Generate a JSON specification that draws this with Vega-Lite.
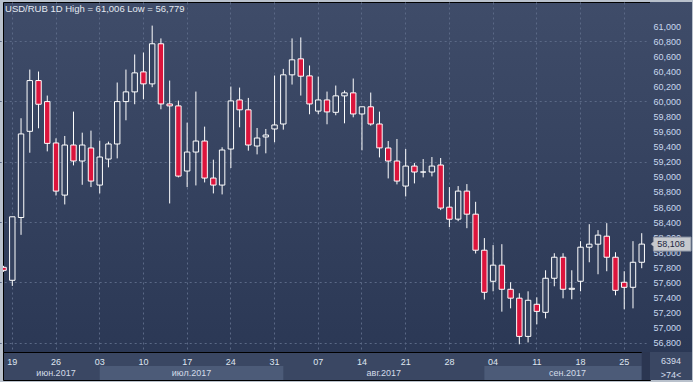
{
  "$schema": "https://vega.github.io/schema/vega-lite/v6.json",
  "background": "#b9c1cc",
  "padding": {"left": 2, "top": 1, "right": 2, "bottom": 3},
  "config": {
    "locale": {"number": {"decimal": ",", "thousands": " ", "grouping": [3], "currency": ["", ""]}},
    "font": "Liberation Sans"
  },
  "datasets": {
    "candles": [
      {"date": "2017-06-16", "open": 57.800, "high": 57.820, "low": 57.740, "close": 57.760},
      {"date": "2017-06-19", "open": 57.628, "high": 58.470, "low": 57.553, "close": 58.470},
      {"date": "2017-06-20", "open": 58.461, "high": 59.777, "low": 58.231, "close": 59.569},
      {"date": "2017-06-21", "open": 59.604, "high": 60.423, "low": 59.320, "close": 60.277},
      {"date": "2017-06-22", "open": 60.277, "high": 60.397, "low": 59.644, "close": 59.963},
      {"date": "2017-06-23", "open": 59.998, "high": 60.078, "low": 59.338, "close": 59.444},
      {"date": "2017-06-26", "open": 59.449, "high": 59.511, "low": 58.753, "close": 58.811},
      {"date": "2017-06-27", "open": 58.758, "high": 59.542, "low": 58.634, "close": 59.422},
      {"date": "2017-06-28", "open": 59.422, "high": 59.865, "low": 59.152, "close": 59.210},
      {"date": "2017-06-29", "open": 59.210, "high": 59.586, "low": 58.895, "close": 59.422},
      {"date": "2017-06-30", "open": 59.383, "high": 59.613, "low": 58.864, "close": 58.944},
      {"date": "2017-07-03", "open": 58.891, "high": 59.480, "low": 58.780, "close": 59.263},
      {"date": "2017-07-04", "open": 59.236, "high": 59.467, "low": 59.126, "close": 59.436},
      {"date": "2017-07-05", "open": 59.436, "high": 60.251, "low": 59.245, "close": 59.998},
      {"date": "2017-07-06", "open": 59.998, "high": 60.423, "low": 59.750, "close": 60.127},
      {"date": "2017-07-07", "open": 60.127, "high": 60.623, "low": 59.963, "close": 60.379},
      {"date": "2017-07-10", "open": 60.392, "high": 60.649, "low": 60.029, "close": 60.233},
      {"date": "2017-07-11", "open": 60.233, "high": 61.006, "low": 60.189, "close": 60.765},
      {"date": "2017-07-12", "open": 60.765, "high": 60.836, "low": 59.896, "close": 59.967},
      {"date": "2017-07-13", "open": 59.967, "high": 60.277, "low": 58.647, "close": 59.941},
      {"date": "2017-07-14", "open": 59.941, "high": 60.011, "low": 58.993, "close": 59.010},
      {"date": "2017-07-17", "open": 59.077, "high": 59.719, "low": 58.864, "close": 59.329},
      {"date": "2017-07-18", "open": 59.329, "high": 60.131, "low": 58.886, "close": 59.475},
      {"date": "2017-07-19", "open": 59.475, "high": 59.666, "low": 58.926, "close": 58.984},
      {"date": "2017-07-20", "open": 58.984, "high": 59.228, "low": 58.780, "close": 58.891},
      {"date": "2017-07-21", "open": 58.891, "high": 59.392, "low": 58.767, "close": 59.356},
      {"date": "2017-07-24", "open": 59.369, "high": 60.198, "low": 59.117, "close": 60.007},
      {"date": "2017-07-25", "open": 60.020, "high": 60.184, "low": 59.657, "close": 59.889},
      {"date": "2017-07-26", "open": 59.889, "high": 60.047, "low": 59.347, "close": 59.422},
      {"date": "2017-07-27", "open": 59.409, "high": 59.648, "low": 59.298, "close": 59.515},
      {"date": "2017-07-28", "open": 59.529, "high": 59.635, "low": 59.312, "close": 59.555},
      {"date": "2017-07-31", "open": 59.635, "high": 60.344, "low": 59.458, "close": 59.688},
      {"date": "2017-08-01", "open": 59.701, "high": 60.432, "low": 59.626, "close": 60.353},
      {"date": "2017-08-02", "open": 60.353, "high": 60.836, "low": 60.224, "close": 60.552},
      {"date": "2017-08-03", "open": 60.565, "high": 60.849, "low": 60.078, "close": 60.335},
      {"date": "2017-08-04", "open": 60.339, "high": 60.477, "low": 59.830, "close": 59.967},
      {"date": "2017-08-07", "open": 59.872, "high": 60.330, "low": 59.830, "close": 60.020},
      {"date": "2017-08-08", "open": 60.020, "high": 60.131, "low": 59.697, "close": 59.861},
      {"date": "2017-08-09", "open": 59.856, "high": 60.211, "low": 59.817, "close": 60.074},
      {"date": "2017-08-10", "open": 60.074, "high": 60.144, "low": 59.710, "close": 60.114},
      {"date": "2017-08-11", "open": 60.114, "high": 60.304, "low": 59.790, "close": 59.834},
      {"date": "2017-08-14", "open": 59.834, "high": 59.929, "low": 59.352, "close": 59.929},
      {"date": "2017-08-15", "open": 59.929, "high": 60.118, "low": 59.679, "close": 59.701},
      {"date": "2017-08-16", "open": 59.701, "high": 59.865, "low": 59.258, "close": 59.384},
      {"date": "2017-08-17", "open": 59.383, "high": 59.475, "low": 58.979, "close": 59.210},
      {"date": "2017-08-18", "open": 59.210, "high": 59.502, "low": 58.900, "close": 58.944},
      {"date": "2017-08-21", "open": 58.878, "high": 59.369, "low": 58.740, "close": 59.143},
      {"date": "2017-08-22", "open": 59.143, "high": 59.183, "low": 58.913, "close": 59.064},
      {"date": "2017-08-23", "open": 59.064, "high": 59.236, "low": 58.993, "close": 59.064},
      {"date": "2017-08-24", "open": 59.064, "high": 59.263, "low": 59.006, "close": 59.143},
      {"date": "2017-08-25", "open": 59.157, "high": 59.250, "low": 58.559, "close": 58.586},
      {"date": "2017-08-28", "open": 58.598, "high": 58.864, "low": 58.333, "close": 58.438},
      {"date": "2017-08-29", "open": 58.439, "high": 58.878, "low": 58.412, "close": 58.811},
      {"date": "2017-08-30", "open": 58.811, "high": 58.904, "low": 58.319, "close": 58.505},
      {"date": "2017-08-31", "open": 58.505, "high": 58.669, "low": 57.983, "close": 58.027},
      {"date": "2017-09-01", "open": 58.027, "high": 58.188, "low": 57.373, "close": 57.469},
      {"date": "2017-09-04", "open": 57.615, "high": 58.095, "low": 57.482, "close": 57.829},
      {"date": "2017-09-05", "open": 57.829, "high": 58.107, "low": 57.212, "close": 57.509},
      {"date": "2017-09-06", "open": 57.509, "high": 57.602, "low": 57.256, "close": 57.391},
      {"date": "2017-09-07", "open": 57.391, "high": 57.456, "low": 56.779, "close": 56.884},
      {"date": "2017-09-08", "open": 56.884, "high": 57.482, "low": 56.804, "close": 57.363},
      {"date": "2017-09-11", "open": 57.310, "high": 57.402, "low": 57.044, "close": 57.216},
      {"date": "2017-09-12", "open": 57.203, "high": 57.761, "low": 57.123, "close": 57.655},
      {"date": "2017-09-13", "open": 57.655, "high": 57.987, "low": 57.549, "close": 57.934},
      {"date": "2017-09-14", "open": 57.934, "high": 57.987, "low": 57.389, "close": 57.509},
      {"date": "2017-09-15", "open": 57.509, "high": 57.761, "low": 57.376, "close": 57.522},
      {"date": "2017-09-18", "open": 57.615, "high": 58.147, "low": 57.482, "close": 58.067},
      {"date": "2017-09-19", "open": 58.067, "high": 58.372, "low": 57.867, "close": 58.107},
      {"date": "2017-09-20", "open": 58.107, "high": 58.293, "low": 57.708, "close": 58.227},
      {"date": "2017-09-21", "open": 58.213, "high": 58.386, "low": 57.748, "close": 57.934},
      {"date": "2017-09-22", "open": 57.934, "high": 58.000, "low": 57.429, "close": 57.495},
      {"date": "2017-09-25", "open": 57.602, "high": 57.748, "low": 57.243, "close": 57.535},
      {"date": "2017-09-26", "open": 57.535, "high": 58.147, "low": 57.256, "close": 57.867},
      {"date": "2017-09-27", "open": 57.867, "high": 58.253, "low": 57.788, "close": 58.108}
    ],
    "mondays": [
      {"date": "2017-06-19", "day": "19"}, {"date": "2017-06-26", "day": "26"},
      {"date": "2017-07-03", "day": "03"}, {"date": "2017-07-10", "day": "10"},
      {"date": "2017-07-17", "day": "17"}, {"date": "2017-07-24", "day": "24"},
      {"date": "2017-07-31", "day": "31"}, {"date": "2017-08-07", "day": "07"},
      {"date": "2017-08-14", "day": "14"}, {"date": "2017-08-21", "day": "21"},
      {"date": "2017-08-28", "day": "28"}, {"date": "2017-09-04", "day": "04"},
      {"date": "2017-09-11", "day": "11"}, {"date": "2017-09-18", "day": "18"},
      {"date": "2017-09-25", "day": "25"}
    ],
    "months": [
      {"m": "июн.2017", "start": "2017-06-16", "end": "2017-07-03", "light": false, "at": "2017-06-26"},
      {"m": "июл.2017", "start": "2017-07-03", "end": "2017-08-01", "light": true, "at": "2017-07-17"},
      {"m": "авг.2017", "start": "2017-08-01", "end": "2017-09-01", "light": false, "at": "2017-08-16"},
      {"m": "сен.2017", "start": "2017-09-01", "end": "2017-09-27", "light": true, "at": "2017-09-14"}
    ],
    "future": [{"from": "2017-09-27"}],
    "corner": [{"row": "d", "t": "6394"}, {"row": "m", "t": ">74<"}],
    "heading": [{"t": "USD/RUB 1D High = 61,006 Low = 56,779"}]
  },
  "columns": 2,
  "spacing": 0,
  "bounds": "flush",
  "concat": [
    {
      "width": 647,
      "height": 350,
      "view": {
        "fill": {"gradient": "linear", "x1": 0, "y1": 0, "x2": 0, "y2": 1, "stops": [{"offset": 0, "color": "#3f4c69"}, {"offset": 1, "color": "#2b3855"}]},
        "stroke": "#000000"
      },
      "encoding": {
        "x": {
          "field": "date", "type": "ordinal",
          "scale": {"type": "band", "range": [-3.81, 643.1], "paddingInner": 0, "paddingOuter": 0},
          "axis": {
            "values": ["2017-06-19", "2017-06-26", "2017-07-03", "2017-07-10", "2017-07-17", "2017-07-24", "2017-07-31", "2017-08-07", "2017-08-14", "2017-08-21", "2017-08-28", "2017-09-04", "2017-09-11", "2017-09-18", "2017-09-25"],
            "grid": true, "gridColor": "#5b6986", "gridDash": [2, 3], "gridWidth": 1,
            "labels": false, "ticks": false, "domain": false, "title": null, "bandPosition": 0.5
          }
        }
      },
      "layer": [
        {
          "data": {"name": "candles"},
          "mark": {"type": "rule", "color": "#ffffff", "strokeWidth": 1, "clip": true},
          "encoding": {
            "y": {
              "field": "low", "type": "quantitative",
              "scale": {"domain": [56.677, 61.319], "nice": false, "zero": false},
              "axis": {
                "orient": "left",
                "values": [56.8, 57.0, 57.2, 57.4, 57.6, 57.8, 58.0, 58.2, 58.4, 58.6, 58.8, 59.0, 59.2, 59.4, 59.6, 59.8, 60.0, 60.2, 60.4, 60.6, 60.8, 61.0],
                "grid": true, "gridColor": "#5b6986", "gridDash": [2, 3], "gridWidth": 1,
                "labels": false, "ticks": false, "domain": false, "title": null
              }
            },
            "y2": {"field": "high"}
          }
        },
        {
          "data": {"name": "candles"},
          "mark": {"type": "bar", "stroke": "#ffffff", "strokeWidth": 1, "clip": true, "width": {"band": 0.62}},
          "encoding": {
            "y": {"field": "open", "type": "quantitative"},
            "y2": {"field": "close"},
            "fill": {"condition": {"test": "datum.close < datum.open", "value": "#dc143c"}, "value": "#35425f"}
          }
        },
        {
          "data": {"name": "heading"},
          "mark": {"type": "text", "align": "left", "baseline": "alphabetic", "dx": 1.5, "dy": 10, "fontSize": 9.5, "color": "#e4e9f1", "font": "Liberation Sans"},
          "encoding": {
            "x": {"datum": "2017-06-16", "type": "ordinal"},
            "y": {"datum": 61.319, "type": "quantitative"},
            "text": {"field": "t"}
          }
        }
      ]
    },
    {
      "width": 42,
      "height": 350,
      "view": {
        "fill": {"gradient": "linear", "x1": 0, "y1": 0, "x2": 0, "y2": 1, "stops": [{"offset": 0, "color": "#3f4c69"}, {"offset": 1, "color": "#2b3855"}]},
        "stroke": null
      },
      "data": {"name": "candles"},
      "transform": [{"filter": "datum.date == '2017-09-27'"}],
      "encoding": {
        "y": {
          "field": "close", "type": "quantitative",
          "scale": {"domain": [56.677, 61.319], "nice": false, "zero": false},
          "axis": {
            "orient": "left",
            "values": [56.8, 57.0, 57.2, 57.4, 57.6, 57.8, 58.0, 58.2, 58.4, 58.6, 58.8, 59.0, 59.2, 59.4, 59.6, 59.8, 60.0, 60.2, 60.4, 60.6, 60.8, 61.0],
            "format": ".3f", "labelAlign": "left", "labelPadding": -3, "labelBaseline": "middle",
            "ticks": false, "tickSize": 0, "domain": false, "grid": false,
            "labelColor": "#c9d8ee", "labelFontSize": 9, "labelFont": "Liberation Sans",
            "labelOverlap": false, "labelFlush": false, "title": null
          }
        }
      },
      "layer": [
        {"mark": {"type": "point", "shape": "M-0.88,-0.35L1,-0.35L1,0.35L-0.88,0.35L-0.88,0.12L-1,0L-0.88,-0.12Z", "size": 1600, "filled": true, "fill": "#c6c9ce", "stroke": "#8a93a3", "strokeWidth": 1, "opacity": 1}},
        {"mark": {"type": "text", "fontSize": 9, "color": "#1c2740", "font": "Liberation Sans"}, "encoding": {"text": {"field": "close", "type": "quantitative", "format": ".3f"}}}
      ]
    },
    {
      "width": 647,
      "height": 28,
      "view": {"fill": "#3a4763", "stroke": "#000000"},
      "layer": [
        {
          "data": {"name": "months"},
          "transform": [{"filter": "datum.light"}],
          "mark": {"type": "rect", "color": "#4c5b78"},
          "encoding": {
            "x": {
              "field": "start", "type": "ordinal", "bandPosition": 0.5,
              "scale": {"type": "band", "range": [-3.81, 643.1], "paddingInner": 0, "paddingOuter": 0,
                "domain": ["2017-06-16", "2017-06-19", "2017-06-20", "2017-06-21", "2017-06-22", "2017-06-23", "2017-06-26", "2017-06-27", "2017-06-28", "2017-06-29", "2017-06-30", "2017-07-03", "2017-07-04", "2017-07-05", "2017-07-06", "2017-07-07", "2017-07-10", "2017-07-11", "2017-07-12", "2017-07-13", "2017-07-14", "2017-07-17", "2017-07-18", "2017-07-19", "2017-07-20", "2017-07-21", "2017-07-24", "2017-07-25", "2017-07-26", "2017-07-27", "2017-07-28", "2017-07-31", "2017-08-01", "2017-08-02", "2017-08-03", "2017-08-04", "2017-08-07", "2017-08-08", "2017-08-09", "2017-08-10", "2017-08-11", "2017-08-14", "2017-08-15", "2017-08-16", "2017-08-17", "2017-08-18", "2017-08-21", "2017-08-22", "2017-08-23", "2017-08-24", "2017-08-25", "2017-08-28", "2017-08-29", "2017-08-30", "2017-08-31", "2017-09-01", "2017-09-04", "2017-09-05", "2017-09-06", "2017-09-07", "2017-09-08", "2017-09-11", "2017-09-12", "2017-09-13", "2017-09-14", "2017-09-15", "2017-09-18", "2017-09-19", "2017-09-20", "2017-09-21", "2017-09-22", "2017-09-25", "2017-09-26", "2017-09-27"]},
              "axis": null
            },
            "x2": {"field": "end", "bandPosition": 0.5},
            "y": {"datum": "m", "type": "ordinal", "scale": {"type": "band", "domain": ["d", "m"], "paddingInner": 0, "paddingOuter": 0}, "axis": null}
          }
        },
        {
          "data": {"name": "future"},
          "mark": {"type": "rect", "color": "#2b3651", "clip": true},
          "encoding": {
            "x": {"field": "from", "type": "ordinal", "bandPosition": 0.5},
            "x2": {"field": "from", "bandPosition": 1.5}
          }
        },
        {
          "data": {"name": "mondays"},
          "mark": {"type": "text", "fontSize": 9, "color": "#dfe6f0", "dy": 2.5},
          "encoding": {
            "x": {"field": "date", "type": "ordinal", "bandPosition": 0.5},
            "y": {"datum": "d", "type": "ordinal"},
            "text": {"field": "day"}
          }
        },
        {
          "data": {"name": "months"},
          "transform": [{"filter": "datum.m == 'июн.2017'"}],
          "mark": {"type": "text", "fontSize": 9, "color": "#d3dbe8"},
          "encoding": {
            "x": {"field": "at", "type": "ordinal", "bandPosition": 0.5},
            "y": {"datum": "m", "type": "ordinal"},
            "text": {"field": "m"}
          }
        },
        {
          "data": {"name": "months"},
          "transform": [{"filter": "datum.m != 'июн.2017'"}],
          "mark": {"type": "text", "fontSize": 9, "color": "#d3dbe8"},
          "encoding": {
            "x": {"field": "at", "type": "ordinal", "bandPosition": 1},
            "y": {"datum": "m", "type": "ordinal"},
            "text": {"field": "m"}
          }
        }
      ]
    },
    {
      "width": 42,
      "height": 28,
      "view": {"fill": "#3a4763", "stroke": null},
      "data": {"name": "corner"},
      "mark": {"type": "text", "fontSize": 9, "color": "#d4ddec", "dy": 1.5},
      "encoding": {
        "y": {"field": "row", "type": "ordinal", "scale": {"type": "band", "domain": ["d", "m"], "paddingInner": 0, "paddingOuter": 0}, "axis": null},
        "text": {"field": "t"}
      }
    }
  ]
}
